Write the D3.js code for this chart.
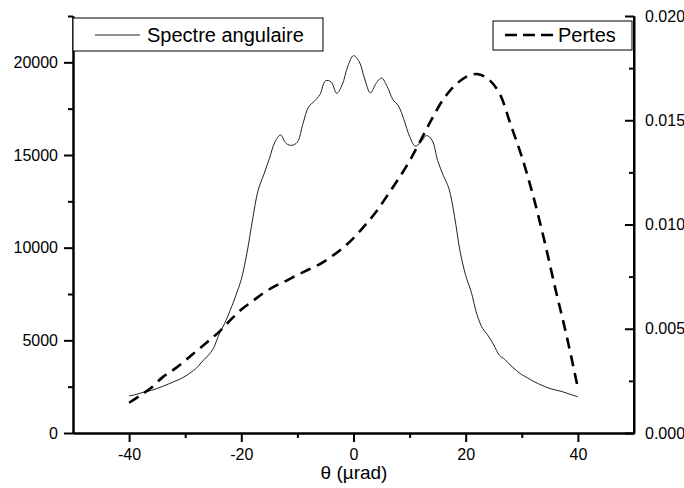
<!DOCTYPE html>
<html>
<head>
<meta charset="utf-8">
<script src="https://cdn.jsdelivr.net/npm/d3@7"></script>
<style>
  body { margin: 0; background: #fff; }
  svg { display: block; font-family: "Liberation Sans", Arial, sans-serif; }
  .axis path, .axis line { stroke: #000; stroke-width: 2; }
  .axis text { font-size: 16px; fill: #000; }
</style>
</head>
<body>
<svg id="chart" width="684" height="488"></svg>
<script>
// ----------------------
// data
// ----------------------
const spectreTheta = [
  -40, -39, -38, -37, -36, -35, -34, -33, -32, -31,
  -30, -29, -28, -27, -26, -25, -24, -23, -22, -21,
  -20, -19, -18, -17, -16, -15, -14, -13, -12, -11,
  -10, -9, -8, -7, -6, -5, -4, -3, -2, -1,
  0, 1, 2, 3, 4, 5, 6, 7, 8, 9,
  10, 11, 12, 13, 14, 15, 16, 17, 18, 19,
  20, 21, 22, 23, 24, 25, 26, 27, 28, 29,
  30, 31, 32, 33, 34, 35, 36, 37, 38, 39, 40
];
const spectreCounts = [
  2000, 2060, 2150, 2230, 2300, 2400, 2520, 2640, 2770, 2900,
  3060, 3270, 3500, 3850, 4150, 4550, 5300, 5900, 6600, 7400,
  8300, 9700, 11500, 13100, 13940, 14800, 15700, 16080, 15620, 15520,
  15700, 16700, 17600, 17900, 18250, 19000, 18950, 18330, 18800, 19800,
  20360, 20050, 19100, 18350, 18850, 19150, 18700, 18000, 17650, 16900,
  16000, 15480, 15700, 16050, 15800, 14700, 13900, 13200, 11700, 9800,
  8500, 7600, 6400, 5650, 5250, 4750, 4200, 3960, 3650, 3380,
  3150, 2980, 2800, 2650, 2520, 2400, 2320, 2250, 2150, 2050, 1960
];

const pertesTheta = [
  -40, -38, -36, -34, -32, -30, -28, -26, -24, -22,
  -20, -18, -16, -14, -12, -10, -8, -6, -4, -2,
  0, 2, 4, 6, 8, 10, 12, 14, 16, 18,
  20, 22, 24, 26, 28, 30, 32, 34, 36, 38, 40
];
const pertesValues = [
  0.00145, 0.00180, 0.00218, 0.00268, 0.00305, 0.00348, 0.00393, 0.00438, 0.00484, 0.00540,
  0.00592, 0.00632, 0.00672, 0.00704, 0.00730, 0.00758, 0.00784, 0.00810, 0.00845, 0.00885,
  0.00935, 0.00995, 0.01060, 0.01138, 0.01218, 0.01305, 0.01405, 0.01508, 0.01600, 0.01665,
  0.01707, 0.01722, 0.01698, 0.01630, 0.01480, 0.01325, 0.01140, 0.00925, 0.00690, 0.00465, 0.00215
];

const xTicks = [-40, -20, 0, 20, 40];
const xMinorTicks = [-30, -10, 10, 30];
const leftTicks = [0, 5000, 10000, 15000, 20000];
const leftMinorTicks = [2500, 7500, 12500, 17500, 22500];
const rightTicks = [0, 0.005, 0.010, 0.015, 0.020];
const rightTickLabels = ["0.000", "0.005", "0.010", "0.015", "0.020"];
const rightMinorTicks = [0.0025, 0.0075, 0.0125, 0.0175];

// ----------------------
// layout + scales
// ----------------------
const svg = d3.select("#chart");
const plot = { left: 73, right: 634, top: 16, bottom: 433 };

const x = d3.scaleLinear().domain([-50, 50]).range([plot.left, plot.right]);
const yLeft = d3.scaleLinear().domain([0, 22500]).range([plot.bottom, plot.top]);
const yRight = d3.scaleLinear().domain([0, 0.020]).range([plot.bottom, plot.top]);

// plain hyphen minus, no thousands separator (like the original)
const plainFormat = d => String(d);

// ----------------------
// axes
// ----------------------
// minor ticks first, major axes on top
svg.append("g").attr("class", "axis")
  .attr("transform", `translate(0,${plot.bottom})`)
  .call(d3.axisBottom(x).tickValues(xMinorTicks).tickSize(5).tickSizeOuter(0).tickFormat(""));
svg.append("g").attr("class", "axis")
  .attr("transform", `translate(${plot.left},0)`)
  .call(d3.axisLeft(yLeft).tickValues(leftMinorTicks).tickSize(5).tickSizeOuter(0).tickFormat(""));
svg.append("g").attr("class", "axis")
  .attr("transform", `translate(${plot.right},0)`)
  .call(d3.axisLeft(yRight).tickValues(rightMinorTicks).tickSize(5).tickSizeOuter(0).tickFormat(""));

svg.append("g").attr("class", "axis")
  .attr("transform", `translate(0,${plot.bottom})`)
  .call(d3.axisBottom(x).tickValues(xTicks).tickSize(9).tickPadding(7)
    .tickSizeOuter(0).tickFormat(plainFormat));

svg.append("g").attr("class", "axis")
  .attr("transform", `translate(${plot.left},0)`)
  .call(d3.axisLeft(yLeft).tickValues(leftTicks).tickSize(9).tickPadding(6)
    .tickSizeOuter(0).tickFormat(plainFormat));

// right axis: ticks point inward, labels outside
const rightAxisG = svg.append("g").attr("class", "axis")
  .attr("transform", `translate(${plot.right},0)`)
  .call(d3.axisRight(yRight).tickValues(rightTicks).tickSize(9).tickPadding(2)
    .tickSizeOuter(0).tickFormat((d, i) => rightTickLabels[i]));
rightAxisG.selectAll(".tick line").attr("x2", -9);
rightAxisG.select(".domain").attr("d", `M0,${plot.bottom + 1}V${plot.top}`);

// ----------------------
// lines
// ----------------------
const spectreData = spectreTheta.map((t, i) => ({ t: t, v: spectreCounts[i] }));
const pertesData = pertesTheta.map((t, i) => ({ t: t, v: pertesValues[i] }));

const spectreLine = d3.line()
  .x(d => x(d.t))
  .y(d => yLeft(d.v))
  .curve(d3.curveCatmullRom.alpha(0.5));

const pertesLine = d3.line()
  .x(d => x(d.t))
  .y(d => yRight(d.v))
  .curve(d3.curveCatmullRom.alpha(0.5));

svg.append("path")
  .datum(spectreData)
  .attr("fill", "none")
  .attr("stroke", "#222")
  .attr("stroke-width", 1)
  .attr("d", spectreLine);

svg.append("path")
  .datum(pertesData)
  .attr("fill", "none")
  .attr("stroke", "#000")
  .attr("stroke-width", 2.6)
  .attr("stroke-dasharray", "11,7")
  .attr("d", pertesLine);

// ----------------------
// legends
// ----------------------
const legend1 = svg.append("g");
legend1.append("rect")
  .attr("x", 73).attr("y", 18).attr("width", 250).attr("height", 33)
  .attr("fill", "#fff").attr("stroke", "#000").attr("stroke-width", 1);
legend1.append("line")
  .attr("x1", 95).attr("x2", 140).attr("y1", 35).attr("y2", 35)
  .attr("stroke", "#222").attr("stroke-width", 1);
legend1.append("text")
  .attr("x", 147).attr("y", 42)
  .attr("font-size", 20)
  .text("Spectre angulaire");

const legend2 = svg.append("g");
legend2.append("rect")
  .attr("x", 493).attr("y", 21).attr("width", 139).attr("height", 29)
  .attr("fill", "#fff").attr("stroke", "#000").attr("stroke-width", 1);
legend2.append("line")
  .attr("x1", 505).attr("x2", 553).attr("y1", 35).attr("y2", 35)
  .attr("stroke", "#000").attr("stroke-width", 2.6)
  .attr("stroke-dasharray", "12,6");
legend2.append("text")
  .attr("x", 558).attr("y", 42)
  .attr("font-size", 20)
  .text("Pertes");

// axis title
svg.append("text")
  .attr("x", 354)
  .attr("y", 479)
  .attr("text-anchor", "middle")
  .attr("font-size", 19)
  .text("θ (µrad)");
</script>
</body>
</html>
